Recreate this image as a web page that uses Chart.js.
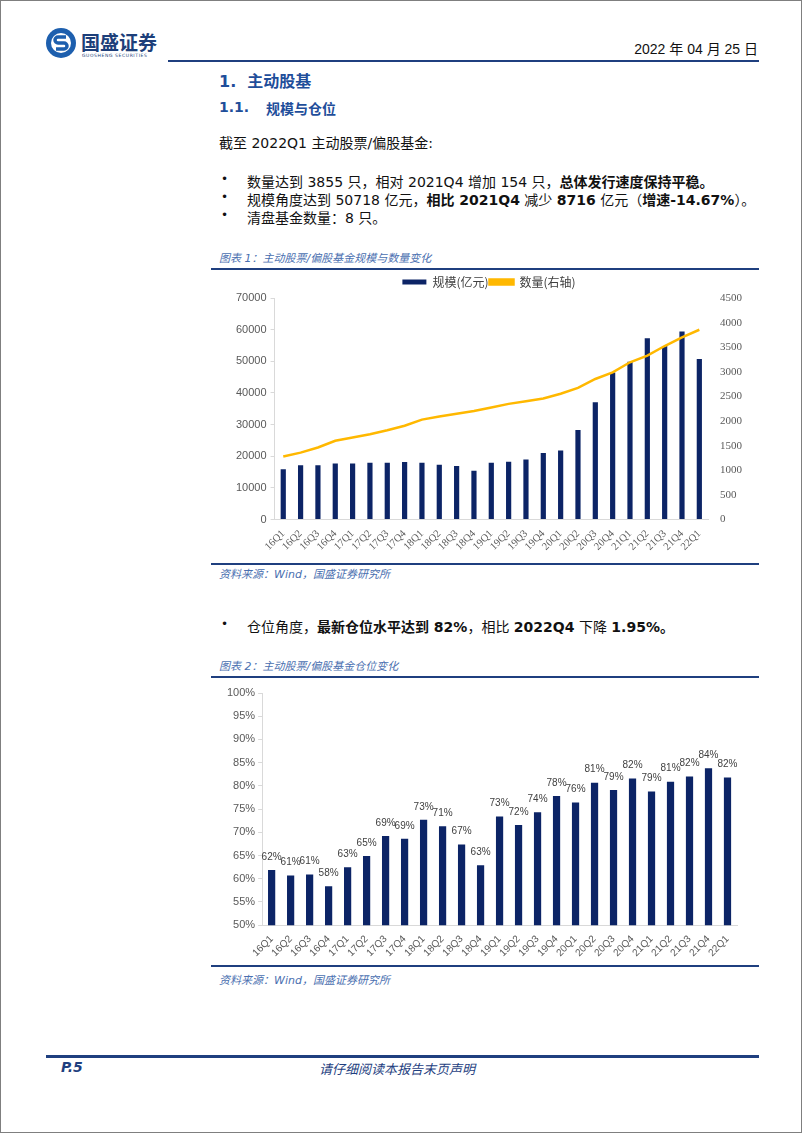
<!DOCTYPE html>
<html>
<head>
<meta charset="utf-8">
<script src="https://cdn.jsdelivr.net/npm/chart.js@4.4.0/dist/chart.umd.min.js"></script>
<style>
  body { margin: 0; background: #fff; }
  #page { position: relative; width: 802px; height: 1133px; box-sizing: border-box; border: 1px solid #7f7f7f; background: #fff; overflow: hidden;
    font-family: "DejaVu Sans", "Noto Sans CJK SC", sans-serif; color: #111; }
  .abs { position: absolute; white-space: nowrap; }
  .rule { position: absolute; height: 2px; background: #1f3f7f; }
  .cap { font-size: 11px; font-style: italic; color: #4a6fb0; }
  .body { font-size: 14px; }
  .bul { position: absolute; left: 220px; font-size: 12px; }
  b { font-weight: bold; }
  .box { position: absolute; }
</style>
</head>
<body>
<div id="page">
  <!-- header -->
  <svg class="abs" style="left:44px;top:26px" width="32" height="32" viewBox="0 0 32 32">
    <circle cx="16" cy="16" r="15" fill="#1d5fae"/>
    <circle cx="16" cy="16" r="10" fill="#fff"/>
    <path d="M21 10 H13 a3 3 0 0 0 0 6 h6 a3 3 0 0 1 0 6 H11" stroke="#1d5fae" stroke-width="3.5" fill="none"/>
  </svg>
  <div class="abs" style="left:80px;top:27px;font-size:19px;font-weight:bold;color:#1d3f7a;font-family:'Noto Sans CJK SC'">国盛证券</div>
  <div class="abs" style="left:81px;top:52px;font-size:4.5px;letter-spacing:0.6px;color:#1d3f7a">GUOSHENG SECURITIES</div>
  <div class="abs" style="right:43px;top:37px;font-size:14px;color:#111;font-family:'Liberation Sans Narrow','Liberation Sans','Noto Sans CJK SC'">2022 年 04 月 25 日</div>
  <div class="rule" style="left:167px;width:591px;top:59px"></div>

  <!-- section text -->
  <div class="abs" style="left:218px;top:67px;font-size:16px;font-weight:bold;color:#1f4e9a">1.&nbsp; 主动股基</div>
  <div class="abs" style="left:218px;top:98px;font-size:14px;font-weight:bold;color:#1f4e9a">1.1.</div>
  <div class="abs" style="left:265px;top:97px;font-size:14px;font-weight:bold;color:#1f4e9a">规模与仓位</div>
  <div class="abs body" style="left:218px;top:131px">截至 2022Q1 主动股票/偏股基金:</div>

  <div class="bul" style="top:171px">•</div>
  <div class="abs body" style="left:246px;top:170px">数量达到 3855 只，相对 2021Q4 增加 154 只，<b>总体发行速度保持平稳。</b></div>
  <div class="bul" style="top:189px">•</div>
  <div class="abs body" style="left:246px;top:188px">规模角度达到 50718 亿元，<b>相比 2021Q4</b> 减少 <b>8716</b> 亿元（<b>增速-14.67%</b>）。</div>
  <div class="bul" style="top:207px">•</div>
  <div class="abs body" style="left:246px;top:206px">清盘基金数量：8 只。</div>

  <div class="abs cap" style="left:218px;top:248px">图表 1：主动股票/偏股基金规模与数量变化</div>
  <div class="rule" style="left:210px;width:548px;top:267px;height:1.5px"></div>
  <div class="box" style="left:210px;top:272px;width:548px;height:288px"><canvas id="c1"></canvas></div>
  <div class="rule" style="left:210px;width:548px;top:562px;height:1.5px"></div>
  <div class="abs cap" style="left:218px;top:564px">资料来源：Wind，国盛证券研究所</div>

  <div class="bul" style="top:616px">•</div>
  <div class="abs body" style="left:246px;top:615px">仓位角度，<b>最新仓位水平达到 82%</b>，相比 <b>2022Q4</b> 下降 <b>1.95%。</b></div>

  <div class="abs cap" style="left:218px;top:656px">图表 2：主动股票/偏股基金仓位变化</div>
  <div class="rule" style="left:210px;width:548px;top:675px;height:1.5px"></div>
  <div class="box" style="left:210px;top:682px;width:548px;height:280px"><canvas id="c2"></canvas></div>
  <div class="rule" style="left:210px;width:548px;top:964px;height:1.5px"></div>
  <div class="abs cap" style="left:218px;top:970px">资料来源：Wind，国盛证券研究所</div>

  <!-- footer -->
  <div class="rule" style="left:45px;width:713px;top:1054px;height:2.5px"></div>
  <div class="abs" style="left:60px;top:1058px;font-size:14px;font-weight:bold;font-style:italic;color:#1f3f7f">P.5</div>
  <div class="abs" style="left:318px;top:1058px;font-size:13px;font-style:italic;color:#1f3f7f">请仔细阅读本报告末页声明</div>
</div>

<script>
const quarters = ["16Q1","16Q2","16Q3","16Q4","17Q1","17Q2","17Q3","17Q4","18Q1","18Q2","18Q3","18Q4",
  "19Q1","19Q2","19Q3","19Q4","20Q1","20Q2","20Q3","20Q4","21Q1","21Q2","21Q3","21Q4","22Q1"];

// 规模(亿元)
const scale = [15900,17150,17150,17750,17750,17950,17950,18200,17950,17350,16900,15400,
  17950,18300,19000,21000,21850,28300,37100,46500,49900,57250,54850,59434,50718];
// 数量(右轴)
const count = [1280,1360,1465,1600,1665,1735,1815,1905,2030,2095,2150,2205,
  2275,2350,2405,2460,2555,2675,2855,2990,3195,3330,3525,3701,3855];
// 仓位(%)
const position = [61.9,60.7,60.9,58.4,62.5,64.9,69.2,68.6,72.7,71.3,67.4,62.9,
  73.4,71.6,74.3,77.8,76.4,80.7,79.1,81.6,78.8,80.9,82.0,83.8,81.8];

const navy = "#0c2466";
const gold = "#ffb800";
const axisGray = "#d9d9d9";
const tickGray = "#595959";

new Chart(document.getElementById("c1"), {
  type: "bar",
  data: {
    labels: quarters,
    datasets: [
      {
        type: "line",
        label: "数量(右轴)",
        data: count,
        yAxisID: "y1",
        borderColor: gold,
        backgroundColor: gold,
        borderWidth: 2.5,
        pointRadius: 0,
        order: 0,
      },
      {
        label: "规模(亿元)",
        data: scale,
        yAxisID: "y",
        backgroundColor: navy,
        barPercentage: 0.3,
        categoryPercentage: 1,
        order: 1,
      },
    ],
  },
  options: {
    responsive: true,
    maintainAspectRatio: false,
    animation: false,
    layout: { padding: { left: 21, right: 13, top: 2, bottom: 8 } },
    plugins: {
      tooltip: { enabled: false },
      legend: {
        position: "top",
        reverse: true,
        labels: {
          boxWidth: 24,
          boxHeight: 5,
          padding: 1,
          color: "#404040",
          font: { size: 12, family: "'Noto Sans CJK SC'" },
        },
      },
    },
    scales: {
      x: {
        grid: { display: false },
        border: { color: axisGray },
        ticks: {
          minRotation: 45,
          maxRotation: 45,
          autoSkip: false,
          color: tickGray,
          padding: 0,
          font: { size: 10.5, family: "'Liberation Serif'" },
        },
      },
      y: {
        position: "left",
        min: 0,
        max: 70000,
        grid: { drawOnChartArea: false, tickLength: 4, color: axisGray },
        border: { color: axisGray },
        ticks: {
          stepSize: 10000,
          color: tickGray,
          padding: 4,
          callback: (v) => String(v),
          font: { size: 11, family: "'Liberation Sans'" },
        },
      },
      y1: {
        position: "right",
        min: 0,
        max: 4500,
        grid: { display: false },
        border: { display: false },
        ticks: {
          stepSize: 500,
          color: tickGray,
          padding: 4,
          callback: (v) => String(v),
          font: { size: 11, family: "'Liberation Serif'" },
        },
      },
    },
  },
});

// value labels above the bars of chart 2
const barLabels = {
  id: "barLabels",
  afterDatasetsDraw(chart) {
    const ctx = chart.ctx;
    const meta = chart.getDatasetMeta(0);
    ctx.save();
    ctx.fillStyle = "#404040";
    ctx.font = "10px 'Liberation Sans Narrow', 'Liberation Sans'";
    ctx.textAlign = "center";
    ctx.textBaseline = "bottom";
    meta.data.forEach((bar, i) => {
      const v = chart.data.datasets[0].data[i];
      ctx.fillText(Math.round(v) + "%", bar.x, bar.y - 8);
    });
    ctx.restore();
  },
};

new Chart(document.getElementById("c2"), {
  type: "bar",
  data: {
    labels: quarters,
    datasets: [
      {
        label: "仓位",
        data: position,
        backgroundColor: navy,
        barPercentage: 0.38,
        categoryPercentage: 1,
      },
    ],
  },
  plugins: [barLabels],
  options: {
    responsive: true,
    maintainAspectRatio: false,
    animation: false,
    layout: { padding: { left: 13, right: 22, top: 10, bottom: 4 } },
    plugins: {
      tooltip: { enabled: false },
      legend: { display: false },
    },
    scales: {
      x: {
        grid: { display: false },
        border: { color: axisGray },
        ticks: {
          minRotation: 45,
          maxRotation: 45,
          autoSkip: false,
          color: tickGray,
          padding: 0,
          font: { size: 10, family: "'Liberation Sans Narrow', 'Liberation Sans'" },
        },
      },
      y: {
        min: 50,
        max: 100,
        grid: { drawOnChartArea: false, tickLength: 4, color: axisGray },
        border: { color: axisGray },
        ticks: {
          stepSize: 5,
          color: tickGray,
          padding: 3,
          callback: (v) => v + "%",
          font: { size: 11, family: "'Liberation Sans Narrow', 'Liberation Sans'" },
        },
      },
    },
  },
});
</script>
</body>
</html>
